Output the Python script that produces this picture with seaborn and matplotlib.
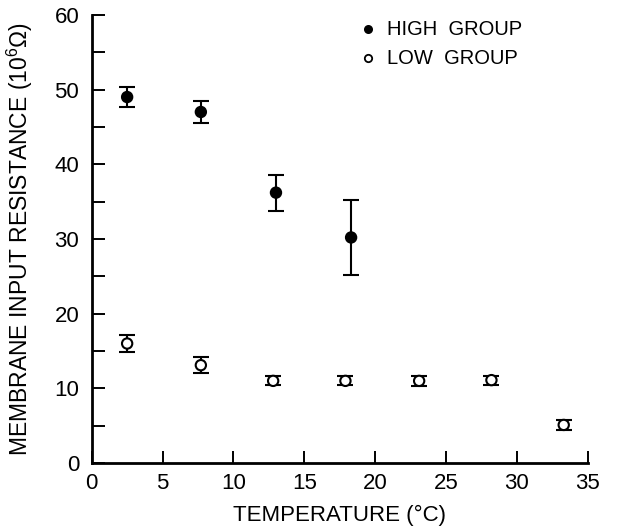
import matplotlib
matplotlib.use("Agg")
import matplotlib.pyplot as plt
import seaborn as sns
import pandas as pd

# Mean membrane input resistance (10^6 ohm) with error bars, by temperature
high_temp = [2.5, 7.7, 13.0, 18.3]
high_res = [49.0, 47.0, 36.2, 30.2]
high_err = [1.4, 1.5, 2.4, 5.0]

low_temp = [2.5, 7.7, 12.8, 17.9, 23.1, 28.2, 33.3]
low_res = [16.0, 13.1, 11.0, 11.0, 11.0, 11.1, 5.1]
low_err = [1.1, 1.1, 0.6, 0.6, 0.7, 0.6, 0.7]

x_ticks = [0, 5, 10, 15, 20, 25, 30, 35]
y_ticks = [0, 10, 20, 30, 40, 50, 60]

sns.set_theme(style="ticks")
plt.rcParams["font.family"] = ["Liberation Sans", "DejaVu Sans"]
plt.rcParams["mathtext.fontset"] = "custom"
plt.rcParams["mathtext.rm"] = "Liberation Sans"
plt.rcParams["mathtext.it"] = "Liberation Sans"
for key in ("text.color", "axes.labelcolor", "xtick.color", "ytick.color",
            "xtick.labelcolor", "ytick.labelcolor"):
    plt.rcParams[key] = "black"

df = pd.concat([
    pd.DataFrame({"temp": high_temp, "res": high_res, "err": high_err, "group": "HIGH  GROUP"}),
    pd.DataFrame({"temp": low_temp, "res": low_res, "err": low_err, "group": "LOW  GROUP"}),
], ignore_index=True)

fig = plt.figure(figsize=(6.26, 5.31), dpi=100)
ax = fig.add_axes([0.1465, 0.128, 0.7925, 0.844])

for grp, sub in df.groupby("group"):
    ax.errorbar(sub["temp"], sub["res"], yerr=sub["err"], fmt="none",
                ecolor="black", elinewidth=1.5, capsize=5.5, capthick=1.5, zorder=2)

sns.scatterplot(data=df, x="temp", y="res", hue="group", style="group",
                palette={"HIGH  GROUP": "black", "LOW  GROUP": "white"},
                markers={"HIGH  GROUP": "o", "LOW  GROUP": "o"},
                edgecolor="black", linewidth=1.5, s=55, ax=ax, zorder=3,
                legend=False)

# Key drawn in the upper part of the axes
ax.scatter([19.5], [58.1], s=28, color="black", edgecolor="black", linewidth=1.2)
ax.scatter([19.5], [54.2], s=28, color="white", edgecolor="black", linewidth=1.3)
ax.text(20.8, 58.1, "HIGH  GROUP", fontsize=14.5, va="center", ha="left")
ax.text(20.8, 54.2, "LOW  GROUP", fontsize=14.5, va="center", ha="left")

ax.set_xlim(0, 35)
ax.set_ylim(0, 60)
ax.set_xticks(x_ticks)
ax.set_yticks(y_ticks)
ax.set_yticks([5, 15, 25, 35, 45, 55], minor=True)
ax.tick_params(axis="both", which="both", direction="in", length=9, width=1.4,
               labelsize=16)
ax.tick_params(axis="x", pad=7)
ax.tick_params(axis="y", pad=9)
sns.despine(ax=ax)
for s in ("left", "bottom"):
    ax.spines[s].set_linewidth(2)
    ax.spines[s].set_color("black")

ax.set_xlabel("TEMPERATURE (°C)", fontsize=16, labelpad=8)
ax.set_ylabel(r"MEMBRANE INPUT RESISTANCE (10$^{6}\Omega$)", fontsize=16.5, labelpad=14)

fig.savefig("out.png", dpi=100)
